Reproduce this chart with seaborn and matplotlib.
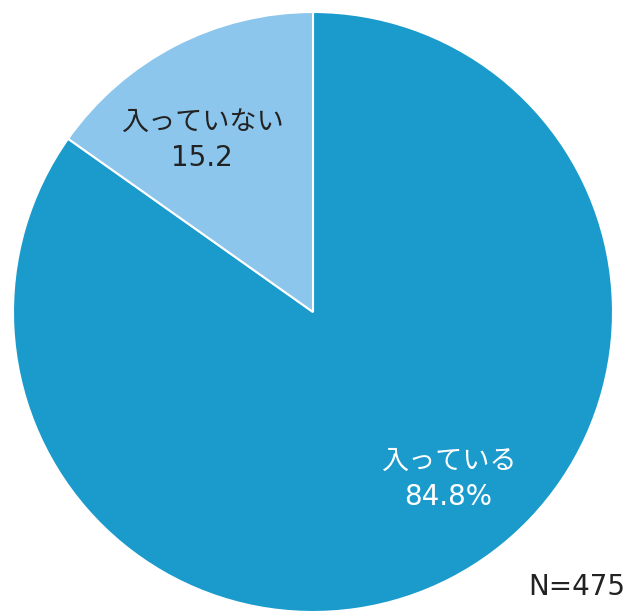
import matplotlib
matplotlib.use("Agg")
import matplotlib.pyplot as plt
import seaborn as sns

categories = ["入っている", "入っていない"]
values = [84.8, 15.2]
value_labels = ["84.8%", "15.2"]
colors = ["#1a9bcb", "#8cc6ec"]

sns.set_theme(style="white")
plt.rcParams['font.family'] = ['Noto Sans CJK JP', 'DejaVu Sans']

fig = plt.figure(figsize=(6.37, 6.11), dpi=100)
ax = fig.add_axes([13/637, (611-612)/611, 600/637, 600/611])
wedges, _ = ax.pie(values, colors=colors, startangle=90, counterclock=False,
                   radius=1.0, wedgeprops=dict(edgecolor="white", linewidth=1.5))
ax.set_xlim(-1, 1)
ax.set_ylim(-1, 1)
ax.set_aspect("equal")
ax.axis("off")

jp = dict(family=['Noto Sans CJK JP', 'DejaVu Sans'], fontsize=19.5, fontweight="normal")
num = dict(family=['DejaVu Sans'], fontsize=20)

# 入っている
ax.text(0.453, -0.497, categories[0], ha="center", va="center", color="white", **jp)
ax.text(0.45, -0.617, value_labels[0], ha="center", va="center", color="white", **num)
# 入っていない
ax.text(-0.37, 0.633, categories[1], ha="center", va="center", color="#222222", **jp)
ax.text(-0.37, 0.513, value_labels[1], ha="center", va="center", color="#222222", **num)

fig.text(0.906, 0.039, "N=475", ha="center", va="center", color="#222222",
         family=['DejaVu Sans'], fontsize=20)

fig.savefig("out.png", dpi=100)
